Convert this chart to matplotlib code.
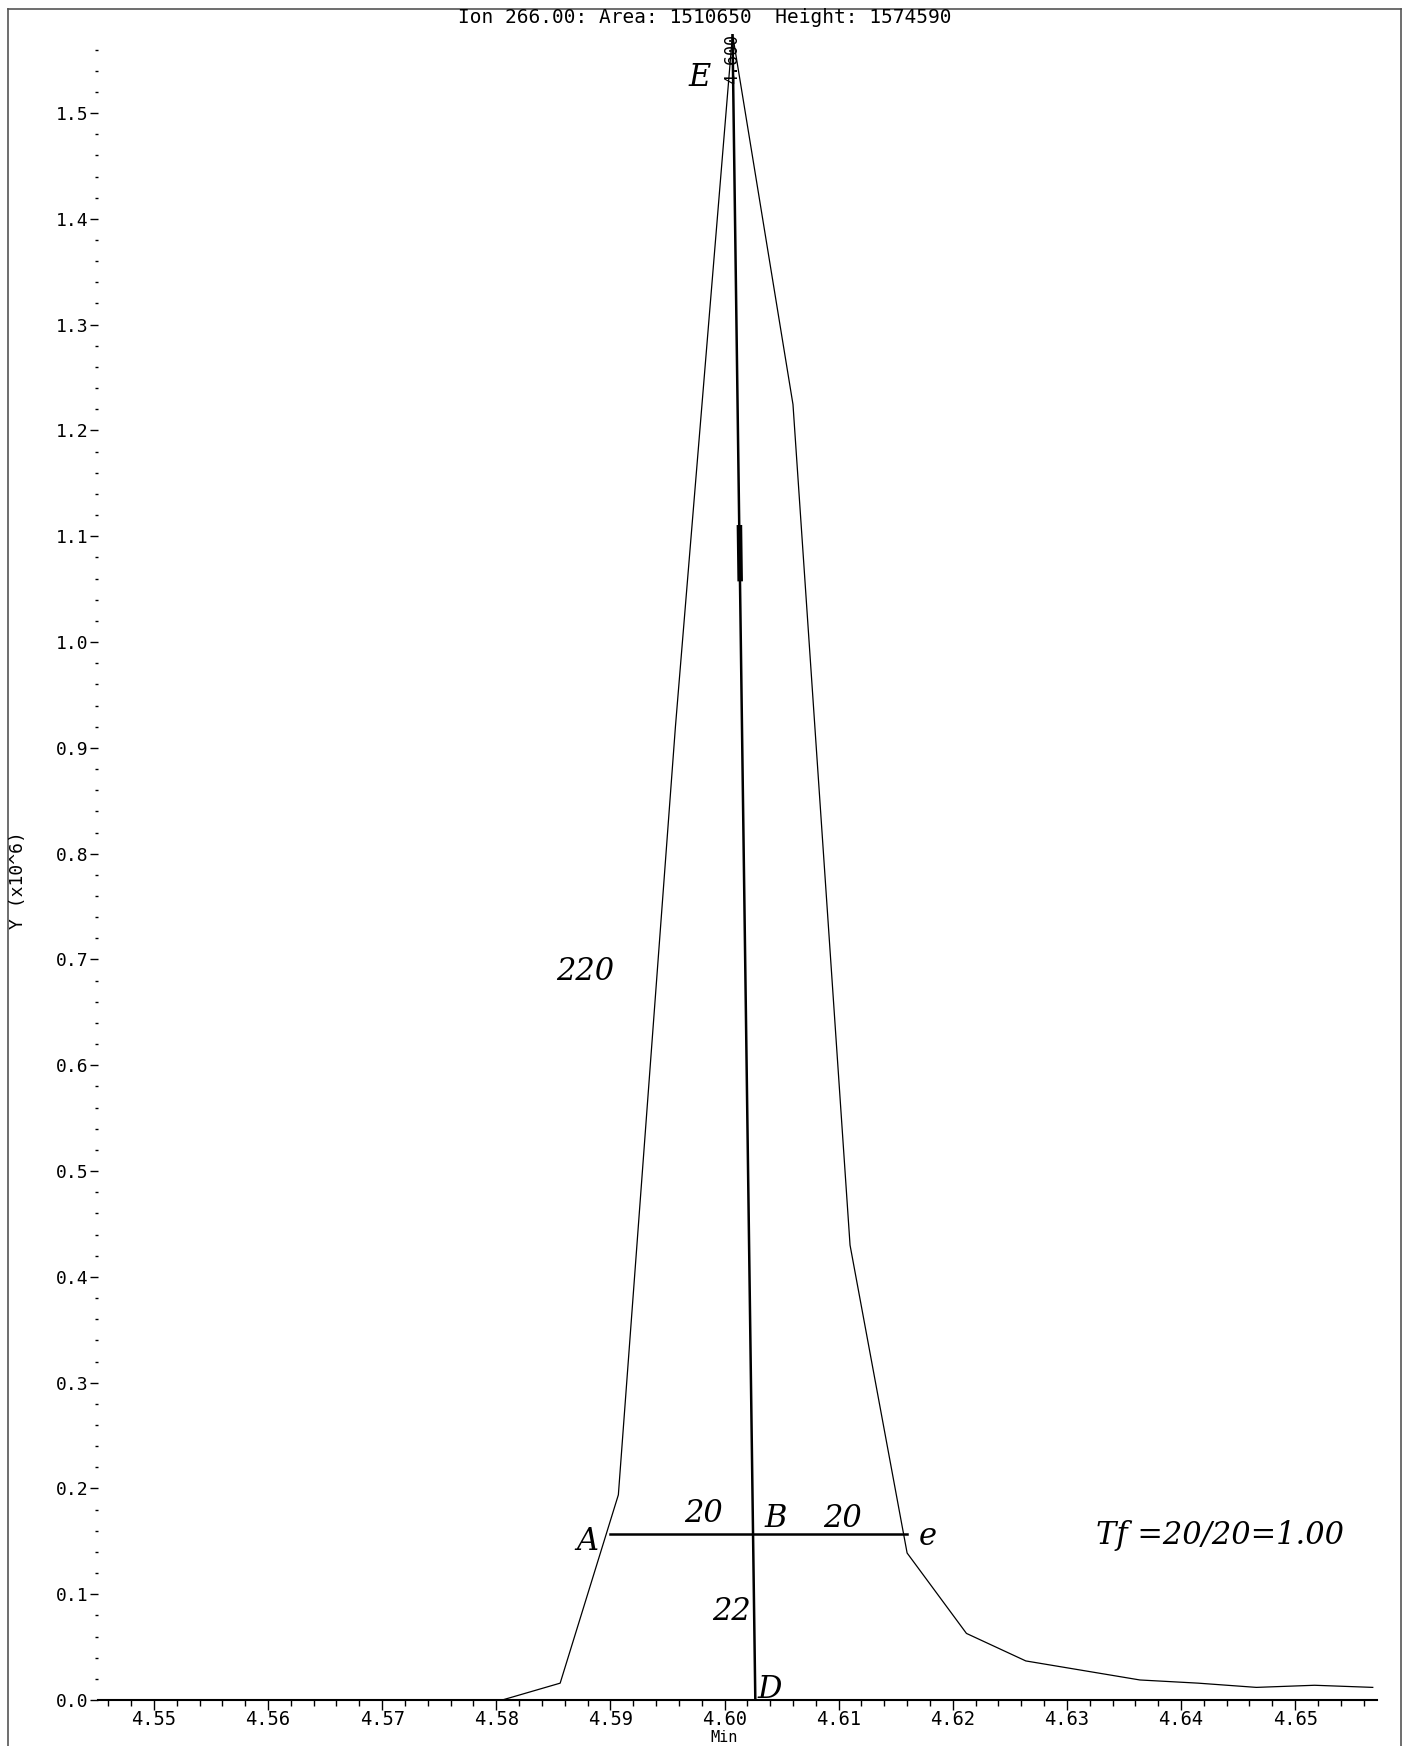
import matplotlib
matplotlib.use("Agg")
import matplotlib.pyplot as plt
from matplotlib.lines import Line2D
from matplotlib.ticker import MultipleLocator, FormatStrFormatter

# chromatogram trace, ion 266 (time in min, intensity in 10^6)
time_min = [4.5451, 4.5805, 4.5856, 4.5907, 4.5957, 4.6007, 4.6060, 4.6110,
            4.6160, 4.6212, 4.6264, 4.6314, 4.6364, 4.6415, 4.6466, 4.6517, 4.6568]
intensity = [0.0, 0.0, 0.016, 0.194, 0.92, 1.5746, 1.2246, 0.430,
             0.139, 0.063, 0.037, 0.028, 0.019, 0.016, 0.012, 0.014, 0.012]

title = "Ion 266.00: Area: 1510650  Height: 1574590"
peak_rt = "4.600"

# hand-drawn construction lines
vert_x = [4.6007, 4.6027]
vert_y = [1.5746, 0.0]
mark_x = [4.60131, 4.60137]
mark_y = [1.108, 1.060]
horiz_x = [4.5900, 4.6160]
horiz_y = [0.1566, 0.1566]

# handwritten notes: (x, y, text)
notes = [
    (4.5978, 1.534, "E"),
    (4.5878, 0.689, "220"),
    (4.5880, 0.150, "A"),
    (4.5982, 0.176, "20"),
    (4.6045, 0.172, "B"),
    (4.6103, 0.172, "20"),
    (4.6178, 0.155, "e"),
    (4.6006, 0.084, "22"),
    (4.6040, 0.010, "D"),
    (4.6434, 0.156, "Tf =20/20=1.00"),
]

mono = "DejaVu Sans Mono"
hand = dict(family="DejaVu Serif", style="italic", fontsize=22)

fig = plt.figure(figsize=(14.03, 17.46), dpi=100)
ax = fig.add_axes([0.0698, 0.0263, 0.9119, 0.9544])

ax.plot(time_min, intensity, color="black", lw=0.9)
ax.plot(vert_x, vert_y, color="black", lw=1.8)
ax.plot(mark_x, mark_y, color="black", lw=4)
ax.plot(horiz_x, horiz_y, color="black", lw=1.8)

ax.text(4.6007, 1.575, peak_rt, rotation=90, ha="center", va="top",
        family=mono, fontsize=12)
for x, y, t in notes:
    ax.text(x, y, t, ha="center", va="center", **hand)

ax.set_xlim(4.5451, 4.6572)
ax.set_ylim(0, 1.575)

ax.xaxis.set_major_locator(MultipleLocator(0.01))
ax.xaxis.set_minor_locator(MultipleLocator(0.002))
ax.xaxis.set_major_formatter(FormatStrFormatter("%.2f"))
ax.yaxis.set_major_locator(MultipleLocator(0.1))
ax.yaxis.set_minor_locator(MultipleLocator(0.02))
ax.yaxis.set_major_formatter(FormatStrFormatter("%.1f"))

for s in ["top", "right", "left"]:
    ax.spines[s].set_visible(False)
ax.spines["bottom"].set_linewidth(1.5)

ax.tick_params(axis="x", which="major", direction="out", length=7, width=1,
               labelsize=13.5, pad=0)
ax.tick_params(axis="x", which="minor", direction="out", length=4, width=1)
ax.tick_params(axis="y", which="major", direction="out", length=6, width=1,
               labelsize=13, pad=1)
ax.tick_params(axis="y", which="minor", direction="out", length=2.5, width=1)
for lab in ax.get_xticklabels() + ax.get_yticklabels():
    lab.set_family(mono)

fig.text(0.516, 0.0006, "Min", ha="center", va="bottom", family=mono, fontsize=11)
fig.text(0.013, 0.496, "Y (x10^6)", ha="center", va="center", rotation=90,
         family=mono, fontsize=13)
fig.text(0.502, 0.9897, title, ha="center", va="center", family=mono, fontsize=14)

# printer frame
fig.add_artist(Line2D([0.0057, 0.9986], [0.9948, 0.9948], transform=fig.transFigure,
                      color="#555555", lw=1.2))
fig.add_artist(Line2D([0.0057, 0.0057], [0.0, 0.9948], transform=fig.transFigure,
                      color="#555555", lw=1.2))
fig.add_artist(Line2D([0.9986, 0.9986], [0.0, 0.9948], transform=fig.transFigure,
                      color="#555555", lw=1.2))

fig.savefig("out.png", dpi=100, facecolor="white")
